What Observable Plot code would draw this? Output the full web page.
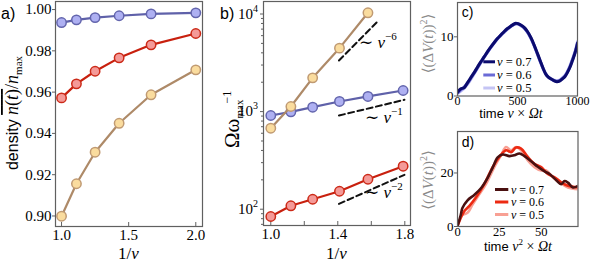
<!DOCTYPE html>
<html><head><meta charset="utf-8">
<script src="https://cdn.jsdelivr.net/npm/d3@7"></script>
<script src="https://cdn.jsdelivr.net/npm/@observablehq/plot@0.6"></script>
<style>
html,body{margin:0;padding:0;background:#fff;}
#chart{position:relative;width:592px;height:268px;overflow:hidden;}
#chart svg{position:absolute;background:transparent;overflow:visible;}
</style></head>
<body><div id="chart"></div>
<script>
// ---------- data ----------
const invNuA = [1.0, 1.111, 1.25, 1.429, 1.667, 2.0];
const densBlue = [0.9937, 0.9950, 0.9961, 0.9970, 0.9979, 0.9984];
const densRed  = [0.9572, 0.9640, 0.9701, 0.9766, 0.9829, 0.9884];
const densTan  = [0.8999, 0.9156, 0.9309, 0.9449, 0.9587, 0.9708];
const yTicksA = [0.90, 0.92, 0.94, 0.96, 0.98, 1.00];
const xTicksA = [1.0, 1.5, 2.0];

const invNuB = [1.0, 1.12, 1.25, 1.41, 1.58, 1.79];
const omegaBlue = [912, 995, 1110, 1270, 1430, 1645];
const omegaRed  = [84.2, 108.4, 126.5, 152.7, 202.8, 276];
const omegaTan  = [676, 1128, 2218, 4467, 10290];
const guide6X = [1.407, 1.639], guide6Y = [3340, 8440];
const guide1X = [1.407, 1.798], guide1Y = [912, 1321];
const guide2X = [1.407, 1.798], guide2Y = [113.5, 225];
const yTicksB = [100, 1000, 10000];
const yTickExpB = ["2", "3", "4"];
const yMinorB = [70, 80, 90, 200, 300, 400, 500, 600, 700, 800, 900, 2000, 3000, 4000, 5000, 6000, 7000, 8000, 9000];
const xTicksB = [1.0, 1.4, 1.8];
const xMinorB = [1.0, 1.2, 1.4, 1.6, 1.8];

const cT = [0, 25, 55, 85, 111, 140, 167, 195, 222, 250, 278, 305, 333, 361, 389, 416, 444, 465, 486, 507, 528, 555, 583, 611, 639, 666, 694, 715, 736, 757, 778, 803, 828, 850, 875, 896, 917, 938, 958, 980, 1000];
const c07 = [0.6, 1.2, 1.4, 2.3, 3.1, 4.0, 4.9, 5.8, 6.6, 7.5, 8.3, 9.0, 9.7, 10.3, 10.9, 11.4, 11.8, 12.1, 12.3, 12.2, 12.0, 11.6, 10.9, 9.9, 8.6, 7.2, 5.7, 4.6, 3.7, 3.2, 2.9, 2.6, 2.4, 2.5, 2.9, 3.3, 4.0, 4.9, 6.0, 7.3, 8.9];
const c06 = [0.5, 1.0, 1.5, 2.2, 3.0, 3.9, 4.8, 5.7, 6.6, 7.4, 8.2, 9.0, 9.7, 10.3, 10.8, 11.3, 11.8, 12.0, 12.2, 12.2, 11.9, 11.5, 10.8, 9.8, 8.5, 7.1, 5.6, 4.6, 3.7, 3.2, 2.9, 2.6, 2.5, 2.6, 3.0, 3.4, 4.1, 5.0, 6.1, 7.4, 9.0];
const c05 = [0.4, 0.8, 1.3, 2.0, 2.8, 3.8, 4.7, 5.6, 6.5, 7.4, 8.2, 8.9, 9.6, 10.2, 10.8, 11.3, 11.7, 12.0, 12.2, 12.1, 11.9, 11.5, 10.8, 9.8, 8.5, 7.0, 5.6, 4.5, 3.7, 3.2, 2.9, 2.7, 2.6, 2.7, 3.1, 3.5, 4.2, 5.2, 6.3, 7.6, 9.2];
const xTicksC = [0, 500, 1000];
const yTicksC = [0, 10];

const d07T = [0, 2, 3, 6, 10, 14, 18, 21, 24, 27, 31, 34, 37, 40, 44, 48, 52, 55, 59, 62, 64, 66, 69, 72];
const d07  = [0, 4.5, 7.0, 9.8, 11.8, 14.3, 18.2, 22.0, 25.8, 26.9, 26.3, 26.6, 27.3, 26.3, 24.4, 22.3, 20.6, 19.6, 17.3, 15.8, 17.0, 16.4, 14.6, 15.2];
const d06T = [0.5, 4, 7, 11, 16, 21, 25, 29, 32, 35, 38, 42, 46, 50, 54, 58, 62, 66, 72];
const d06  = [1.0, 5.7, 7.6, 10.8, 15.8, 22.2, 26.0, 28.5, 27.8, 29.5, 29.1, 26.0, 23.4, 22.2, 19.6, 18.4, 16.5, 15.2, 14.6];
const d05T = [3, 6, 9, 13, 17, 22, 26, 29, 32, 35, 38, 42, 46, 50, 53, 57, 61, 66, 72];
const d05  = [4.4, 5.1, 8.2, 12.0, 15.8, 22.2, 26.6, 29.7, 28.5, 29.7, 28.5, 24.7, 22.2, 20.9, 20.9, 18.4, 16.5, 14.6, 13.9];
const xTicksD = [0, 25, 50];
const yTicksD = [0, 20];

const nuLabels = ["0.7", "0.6", "0.5"];

// ---------- style ----------
const serif = "Liberation Serif, DejaVu Serif, serif";
const sans = "Liberation Sans, Arial, sans-serif";
const frameC = "#606060";
const blue = {line: "#5f61a9", fill: "#aeb0f2", stroke: "#6365ad"};
const red  = {line: "#c8200e", fill: "#f49a98", stroke: "#cc2a18"};
const tan  = {line: "#ae8a68", fill: "#fadc9e", stroke: "#c09a72"};
const cCols = ["#0b0b6e", "#6a6ad6", "#c4c4f4"];
const dCols = ["#4a1010", "#ec2a12", "#f8a094"];

const rows = (xs, ys) => xs.map((x, i) => ({x, y: ys[i]}));
const root = document.getElementById("chart");

function rich(svg, {x, y, rotate = 0, anchor = "start", fill = "#000", size = 15, family = serif}, parts) {
  const t = d3.select(svg).append("text")
    .attr("transform", `translate(${x},${y})` + (rotate ? ` rotate(${rotate})` : ""))
    .attr("text-anchor", anchor).attr("fill", fill)
    .style("font-family", family).style("font-size", size + "px");
  for (const p of parts) {
    const s = t.append("tspan").text(p.t);
    if (p.italic) s.style("font-style", "italic");
    if (p.size) s.style("font-size", p.size + "px");
    if (p.family) s.style("font-family", p.family);
    if (p.dy) s.attr("dy", p.dy);
    if (p.dx) s.attr("dx", p.dx);
    if (p.deco) s.style("text-decoration", p.deco);
  }
  return t;
}
function place(svg, left, top) {
  svg.style.left = left + "px"; svg.style.top = top + "px";
  d3.select(svg).selectAll("text").style("font-family", serif).style("fill", "#000");
  root.appendChild(svg);
}
function series(data, c, r = 4.7) {
  return [
    Plot.line(data, {x: "x", y: "y", stroke: c.line, strokeWidth: 2.2}),
    Plot.dot(data, {x: "x", y: "y", r, fill: c.fill, stroke: c.stroke, strokeWidth: 1.5})
  ];
}

// ---------- panel a ----------
const plotA = Plot.plot({
  width: 230, height: 268, marginLeft: 55, marginRight: 28, marginTop: 1, marginBottom: 42,
  x: {domain: [0.955, 2.05]},
  y: {domain: [0.8949, 1.0039]},
  marks: [
    Plot.frame({stroke: frameC, strokeWidth: 1.2}),
    Plot.axisY({ticks: yTicksA, tickFormat: d3.format(".2f"), tickSize: 3, tickPadding: 1, stroke: frameC, label: null, fontSize: 15}),
    Plot.axisX({ticks: xTicksA, tickFormat: d3.format(".1f"), tickSize: 0, tickPadding: 3, label: null, fontSize: 15}),
    Plot.tickX(xTicksA, {x: d => d, insetTop: 221, stroke: frameC}),
    ...series(rows(invNuA, densBlue), blue),
    ...series(rows(invNuA, densRed), red),
    ...series(rows(invNuA, densTan), tan)
  ]
});
place(plotA, 0, 0);
rich(plotA, {x: 1, y: 19, family: sans, size: 16}, [{t: "a)"}]);
rich(plotA, {x: 18, y: 113, rotate: -90, anchor: "middle", family: sans, size: 16}, [
  {t: "density "},
  {t: "n", italic: true, family: serif, size: 18, deco: "overline"},
  {t: "(", family: serif, size: 18, deco: "overline"},
  {t: "t", italic: true, family: serif, size: 18, deco: "overline"},
  {t: ")", family: serif, size: 18, deco: "overline"},
  {t: "/", family: serif, size: 18},
  {t: "n", italic: true, family: serif, size: 18},
  {t: "max", family: serif, size: 11, dy: 4}
]);
rich(plotA, {x: 128.5, y: 259, anchor: "middle", size: 17}, [{t: "1/"}, {t: "ν", italic: true}]);

// ---------- panel b ----------
const plotB = Plot.plot({
  width: 210, height: 268, marginLeft: 43, marginRight: 20, marginTop: 1, marginBottom: 43,
  x: {domain: [0.9565, 1.834]},
  y: {type: "log", domain: [68.1, 13430]},
  marks: [
    Plot.frame({stroke: frameC, strokeWidth: 1.2}),
    Plot.axisY({ticks: yTicksB, tickFormat: () => "", tickSize: 3, stroke: frameC, label: null}),
    Plot.axisY({ticks: yMinorB, tickFormat: () => "", tickSize: 2, stroke: frameC, label: null}),
    Plot.axisX({ticks: xTicksB, tickFormat: d3.format(".1f"), tickSize: 0, tickPadding: 3, label: null, fontSize: 15}),
    Plot.tickX(xMinorB, {x: d => d, insetTop: 220, stroke: frameC}),
    Plot.line(rows(guide6X, guide6Y), {x: "x", y: "y", stroke: "#111", strokeWidth: 2, strokeDasharray: "6,3.5"}),
    Plot.line(rows(guide1X, guide1Y), {x: "x", y: "y", stroke: "#111", strokeWidth: 2, strokeDasharray: "6,3.5"}),
    Plot.line(rows(guide2X, guide2Y), {x: "x", y: "y", stroke: "#111", strokeWidth: 2, strokeDasharray: "6,3.5"}),
    ...series(rows(invNuB, omegaBlue), blue),
    ...series(rows(invNuB, omegaRed), red),
    ...series(rows(invNuB.slice(0, omegaTan.length), omegaTan), tan)
  ]
});
place(plotB, 220, 0);
{
  const sx = plotB.scale("x"), sy = plotB.scale("y");
  yTicksB.forEach((v, i) => {
    rich(plotB, {x: 38, y: sy.apply(v) + 5, anchor: "end", size: 15}, [
      {t: "10"}, {t: yTickExpB[i], size: 10, dy: -7}
    ]);
  });
  const guideLabels = [[1.53, 4990, "−6"], [1.565, 849, "−1"], [1.565, 145, "−2"]];
  for (const [gx, gy, e] of guideLabels) {
    rich(plotB, {x: sx.apply(gx), y: sy.apply(gy) + 5, size: 17}, [
      {t: "∼ "}, {t: "ν", italic: true}, {t: e, size: 11, dy: -8}
    ]);
  }
}
rich(plotB, {x: 0, y: 19, family: sans, size: 16}, [{t: "b)"}]);
rich(plotB, {x: 19, y: 148, rotate: -90, size: 21}, [
  {t: "Ωω"},
  {t: "max", size: 11, dy: 4},
  {t: "−1", size: 12, dy: -12, dx: -4}
]);
rich(plotB, {x: 116.5, y: 259, anchor: "middle", size: 17}, [{t: "1/"}, {t: "ν", italic: true}]);

// ---------- panel c ----------
const cData = [[c05, cCols[2]], [c06, cCols[1]], [c07, cCols[0]]];
const plotC = Plot.plot({
  width: 172, height: 120, marginLeft: 37, marginRight: 15, marginTop: 2, marginBottom: 24.5,
  x: {domain: [0, 1000]},
  y: {domain: [0, 15.8]},
  marks: [
    ...cData.map(([v, col]) => Plot.line(rows(cT, v), {x: "x", y: "y", stroke: col, strokeWidth: 3, curve: "catmull-rom", clip: true})),
    Plot.frame({stroke: frameC, strokeWidth: 1.2}),
    Plot.axisY({ticks: yTicksC, tickFormat: d => String(d), tickSize: 3, tickPadding: 1, stroke: frameC, label: null, fontSize: 13}),
    Plot.axisX({ticks: xTicksC, tickFormat: d => String(d), tickSize: 0, tickPadding: 0, label: null, fontSize: 12})
  ]
});
place(plotC, 420, 0);
rich(plotC, {x: 41.7, y: 17, family: sans, size: 14}, [{t: "c)"}]);
rich(plotC, {x: 13, y: 43.5, rotate: -90, anchor: "middle", size: 15, fill: "#8a8a8a"}, [{t: "⟨(Δ"}, {t: "V", italic: true}, {t: "("}, {t: "t", italic: true}, {t: "))"}, {t: "2", size: 10, dy: -6}, {t: "⟩", dy: 6}]);
rich(plotC, {x: 91, y: 118, anchor: "middle", family: sans, size: 13}, [
  {t: "time "}, {t: "ν", italic: true, family: serif, size: 14}, {t: " × ", family: serif, size: 14}, {t: "Ωt", italic: true, family: serif, size: 14}
]);
{
  const legY = [61.8, 75, 88];
  const svg = d3.select(plotC);
  legY.forEach((y, i) => {
    svg.append("line").attr("x1", 63.3).attr("x2", 75).attr("y1", y).attr("y2", y).attr("stroke", cCols[i]).attr("stroke-width", 3);
    rich(plotC, {x: 77, y: y + 4, size: 12.5}, [{t: "ν", italic: true}, {t: " = " + nuLabels[i]}]);
  });
}

// ---------- panel d ----------
const dData = [[d05T, d05, dCols[2]], [d06T, d06, dCols[1]], [d07T, d07, dCols[0]]];
const plotD = Plot.plot({
  width: 172, height: 148, marginLeft: 37, marginRight: 14.5, marginTop: 11, marginBottom: 42,
  x: {domain: [0, 72]},
  y: {domain: [0, 35.5]},
  marks: [
    ...dData.map(([t, v, col]) => Plot.line(rows(t, v), {x: "x", y: "y", stroke: col, strokeWidth: 2.6, curve: "catmull-rom", clip: true})),
    Plot.frame({stroke: frameC, strokeWidth: 1.2}),
    Plot.axisY({ticks: yTicksD, tickFormat: d => String(d), tickSize: 3, tickPadding: 1, stroke: frameC, label: null, fontSize: 13}),
    Plot.axisX({ticks: xTicksD, tickFormat: d => String(d), tickSize: 0, tickPadding: 1, label: null, fontSize: 12.5})
  ]
});
place(plotD, 420, 120);
rich(plotD, {x: 41.7, y: 27, family: sans, size: 14}, [{t: "d)"}]);
rich(plotD, {x: 13, y: 60, rotate: -90, anchor: "middle", size: 15, fill: "#8a8a8a"}, [{t: "⟨(Δ"}, {t: "V", italic: true}, {t: "("}, {t: "t", italic: true}, {t: "))"}, {t: "2", size: 10, dy: -6}, {t: "⟩", dy: 6}]);
rich(plotD, {x: 98, y: 131, anchor: "middle", family: sans, size: 13}, [
  {t: "time "}, {t: "ν", italic: true, family: serif, size: 14}, {t: "2", family: serif, size: 9, dy: -6}, {t: " × ", family: serif, size: 14, dy: 6}, {t: "Ωt", italic: true, family: serif, size: 14}
]);
{
  const legY = [69.5, 82, 94.5];
  const svg = d3.select(plotD);
  legY.forEach((y, i) => {
    svg.append("line").attr("x1", 75).attr("x2", 88.3).attr("y1", y).attr("y2", y).attr("stroke", dCols[i]).attr("stroke-width", 3);
    rich(plotD, {x: 91, y: y + 4, size: 12}, [{t: "ν", italic: true}, {t: " = " + nuLabels[i]}]);
  });
}
</script></body></html>
